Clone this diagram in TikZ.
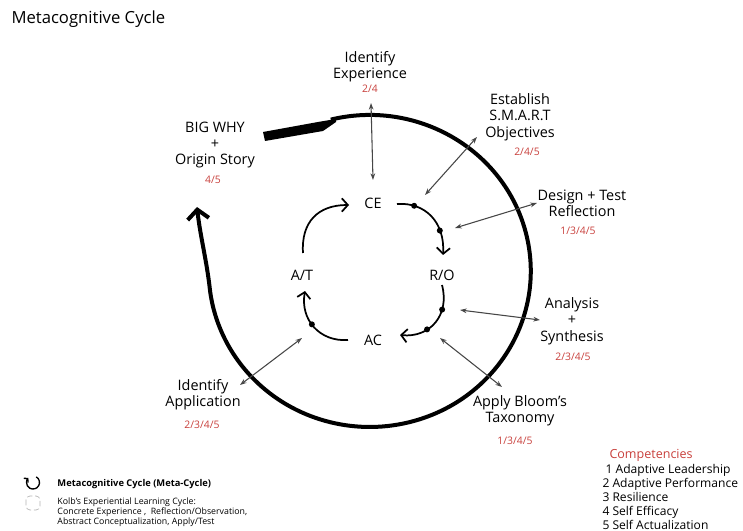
\documentclass[tikz,border=0pt]{standalone}
\usepackage{fontspec}
\setmainfont{Open Sans}
\usetikzlibrary{arrows.meta}

\definecolor{numred}{RGB}{200,64,60}
\definecolor{linkgray}{RGB}{70,70,70}

\tikzset{every picture/.style={line width=0.75pt}}
\tikzset{
steplabel/.style={align=center, inner sep=0.75pt, font=\fontsize{10.8}{12.3}\selectfont},
numlabel/.style={inner sep=0.75pt, text=numred, font=\fontsize{7.8}{9}\selectfont},
kolblabel/.style={inner sep=0.75pt, font=\fontsize{10.8}{12}\selectfont},
kolbarc/.style={line width=1.3pt, -{Straight Barb[length=4.5pt,width=10pt]}},
kolbdot/.style={circle, fill, inner sep=0pt, minimum size=4.5pt},
link/.style={linkgray, line width=0.8pt, {Stealth[length=5pt,width=3.5pt]}-{Stealth[length=5pt,width=3.5pt]}},
metaline/.style={line width=3pt}
}

\begin{document}
\begin{tikzpicture}[x=0.75pt,y=0.75pt,yscale=-1,xscale=1]
\useasboundingbox (0,0) rectangle (743,531);

% Title
\node [anchor=west, inner sep=0pt, font=\fontsize{12.5}{14}\selectfont] (title) at (11,19) {Metacognitive Cycle};

%Meta-Cycle: pen stroke
\fill (263,132) -- (318,122) -- (336,119) -- (336,122) -- (323,131) -- (265,141) -- cycle ;
%Meta-Cycle: big loop
\coordinate (meta-start) at (330.8,119.6);
\coordinate (meta-end) at (197,207);
\draw [metaline, -{Straight Barb[length=7pt,width=16pt]}] (meta-start) arc [start angle=-104, end angle=173, x radius=161, y radius=156] .. controls (207,262) and (200,235) .. (meta-end) ;

% Kolb nodes
\node [kolblabel] (ce) at (373,203) {CE};
\node [kolblabel] (ro) at (442,275) {R/O};
\node [kolblabel] (ac) at (373,340) {AC};
\node [kolblabel] (at) at (302,275) {A/T};

\coordinate (at-out) at (303,253);
\coordinate (ce-in) at (349,205);
\coordinate (ce-out) at (397,204);
\coordinate (ro-in) at (443,255);
\coordinate (ro-out) at (442,285);
\coordinate (ac-in) at (400,335);
\coordinate (ac-out) at (348,340);
\coordinate (at-in) at (305,291);

%Kolb arcs
\draw [kolbarc] (at-out) .. controls (301,222) and (318,205) .. (ce-in) ;
\draw [kolbarc] (ce-out) .. controls (425,202) and (445,222) .. (ro-in) node [kolbdot, pos=0.22] (dot-ce) {} node [kolbdot, pos=0.72] (dot-ro1) {} ;
\draw [kolbarc] (ro-out) .. controls (450,315) and (430,338) .. (ac-in) node [kolbdot, pos=0.3] (dot-ro2) {} node [kolbdot, pos=0.65] (dot-ac1) {} ;
\draw [kolbarc] (ac-out) .. controls (320,342) and (300,320) .. (at-in) node [kolbdot, pos=0.55] (dot-ac2) {} ;

% Text Node
\node [steplabel] (ident-exp) at (370,67) {Identify\\Experience};
\node [numlabel] (ident-exp-num) at (370,89) {2/4};
% Text Node
\node [steplabel] (big-why) at (215,145) {BIG WHY\\+\\Origin Story};
\node [numlabel] (big-why-num) at (213,180) {4/5};
% Text Node
\node [steplabel] (smart) at (520,117) {Establish\\S.M.A.R.T\\Objectives};
\node [numlabel] (smart-num) at (527,152) {2/4/5};
% Text Node
\node [steplabel] (design) at (582,203) {Design + Test\\Reflection};
\node [numlabel] (design-num) at (578,231) {1/3/4/5};
% Text Node
\node [steplabel] (analysis) at (572,321) {Analysis\\+\\Synthesis};
\node [numlabel] (analysis-num) at (573,357) {2/3/4/5};
% Text Node
\node [steplabel] (bloom) at (520,411) {Apply Bloom’s\\Taxonomy};
\node [numlabel] (bloom-num) at (515,441) {1/3/4/5};
% Text Node
\node [steplabel] (ident-app) at (203,395) {Identify\\Application};
\node [numlabel] (ident-app-num) at (202,425) {2/3/4/5};

%Links
\coordinate (exp-a) at (371,103);
\coordinate (exp-b) at (373,180);
\coordinate (smart-a) at (477,137);
\coordinate (smart-b) at (425,195);
\coordinate (design-a) at (537,203);
\coordinate (design-b) at (455,228);
\coordinate (analysis-a) at (540,320);
\coordinate (analysis-b) at (460,310);
\coordinate (bloom-a) at (502,387);
\coordinate (bloom-b) at (440,338);
\coordinate (app-a) at (240,385);
\coordinate (app-b) at (302,338);
\draw [link] (exp-a) -- (exp-b) ;
\draw [link] (smart-a) -- (smart-b) ;
\draw [link] (design-a) -- (design-b) ;
\draw [link] (analysis-a) -- (analysis-b) ;
\draw [link] (bloom-a) -- (bloom-b) ;
\draw [link] (app-a) -- (app-b) ;

%Legend icons
\coordinate (meta-icon) at (33,482.5);
\draw [line width=1pt, -{Straight Barb[length=2pt,width=4.5pt]}] (meta-icon) ++(-60:6.5) arc [start angle=-60, end angle=225, radius=6.5] ;
\coordinate (kolb-icon) at (33,503);
\draw [gray!60, line width=0.5pt, rounded corners=3pt, dash pattern=on 4pt off 2pt] (26,496) rectangle (40,510) ;

% Legend text
\node [anchor=west, inner sep=0pt, font=\fontsize{7}{8}\selectfont\bfseries] (meta-key) at (57,484) {Metacognitive Cycle (Meta-Cycle)};
\node [anchor=west, inner sep=0pt, align=left, font=\fontsize{6.6}{7.6}\selectfont] (kolb-key) at (57,512) {Kolb’s Experiential Learning Cycle:\\Concrete Experience ,\ \ Reflection/Observation,\\Abstract Conceptualization, Apply/Test};

% Competencies
\node [anchor=west, inner sep=0pt, text=numred, font=\fontsize{9.4}{11}\selectfont] (comp-title) at (609,455) {Competencies};
\node [anchor=west, inner sep=0pt, align=left, font=\fontsize{9.05}{10.5}\selectfont] (comp-list) at (602,497) {\ 1 Adaptive Leadership\\2 Adaptive Performance\\3 Resilience\\4 Self Efficacy\\5 Self Actualization};

\end{tikzpicture}
\end{document}
